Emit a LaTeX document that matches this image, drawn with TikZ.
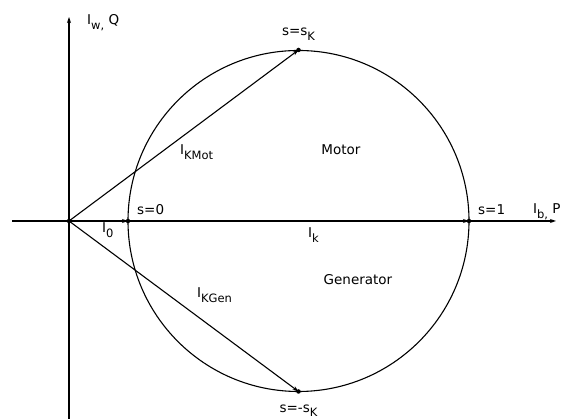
\documentclass[tikz,border=0pt]{standalone}
\usepackage{fontspec}
\setmainfont{DejaVu Sans}
\usetikzlibrary{arrows.meta}
\newcommand{\lsub}[1]{\raisebox{-4.5pt}{\fontsize{11.5}{12}\selectfont #1}}
\newcommand{\lsubb}[1]{\raisebox{-3.5pt}{\fontsize{11.5}{12}\selectfont #1}}
\begin{document}
\begin{tikzpicture}[x=1pt,y=1pt,
  lbl/.style={font=\fontsize{13.5}{15}\selectfont, inner sep=0pt},
  vec/.style={line width=1.1pt, -{Stealth[length=6pt,width=4pt]}},
  axis/.style={line width=1.1pt, -{Stealth[length=6pt,width=4pt]}},
  dot/.style={circle, fill=black, inner sep=0pt, minimum size=4.5pt}]
\useasboundingbox (0,0) rectangle (565,419);
\coordinate (O) at (69,198);
\coordinate (C) at (298.5,198);
\coordinate (xl) at (12,198);
\coordinate (xr) at (556,198);
\coordinate (yb) at (69,0);
\coordinate (yt) at (69,402);
\node[dot] (o) at (O) {};
\node[dot] (s0) at (128,198) {};
\node[dot] (s1) at (469,198) {};
\node[dot] (sk) at (298.5,369) {};
\node[dot] (msk) at (298.5,27.5) {};
\draw[axis] (xl) -- (xr);
\draw[axis] (yb) -- (yt);
\draw[line width=1.1pt] (C) circle (170.5);
\draw[vec] (o.center) -- (s0.center);
\draw[vec] (s0.center) -- (s1.center);
\draw[vec] (o.center) -- (sk.center);
\draw[vec] (o.center) -- (msk.center);
\node[lbl, anchor=base west] (lw) at (87,394) {I\lsub{w,} Q};
\node[lbl, anchor=base] (lsk) at (298.5,383) {s=s\lsub{K}};
\node[lbl, anchor=base west] (l0) at (137,204) {s=0};
\node[lbl, anchor=base west] (l1) at (478,204) {s=1};
\node[lbl, anchor=base west] (lb) at (533,205) {I\lsub{b,} P};
\node[lbl, anchor=base west] (li0) at (102,186) {I\lsub{0}};
\node[lbl, anchor=base west] (lkm) at (180,264) {I\lsub{KMot}};
\node[lbl, anchor=base] (lm) at (341,264) {Motor};
\node[lbl, anchor=base west] (lk) at (308,181) {I\lsub{k}};
\node[lbl, anchor=base] (lg) at (358,134) {Generator};
\node[lbl, anchor=base west] (lkg) at (197,121) {I\lsub{KGen}};
\node[lbl, anchor=base] (lmsk) at (298.5,6) {s=-s\lsubb{K}};
\end{tikzpicture}
\end{document}
